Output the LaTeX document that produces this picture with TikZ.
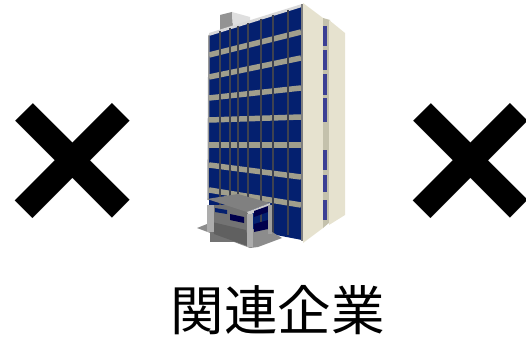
\documentclass[tikz,border=0pt]{standalone}
\usepackage{fontspec}
\newfontfamily\cjkjp{Noto Sans CJK JP}
\newfontfamily\crossfont{Liberation Sans}
\definecolor{winblue}{HTML}{04206F}
\definecolor{band}{HTML}{A09E8C}
\definecolor{mull}{HTML}{3E4250}
\definecolor{sidecream}{HTML}{E6E2CF}
\definecolor{sideshade}{HTML}{C4C1AC}
\definecolor{sideblue}{HTML}{3B3F94}
\tikzset{
  label text/.style={font=\cjkjp\fontsize{53.5}{60}\selectfont, inner sep=0pt, text=black},
  cross mark/.style={font=\crossfont\bfseries\fontsize{230}{230}\selectfont, inner sep=0pt, text=black},
  floorband/.style={draw=band, line width=5.5pt},
  mullion/.style={draw=mull, line width=1.5pt},
}
\begin{document}
\begin{tikzpicture}[x=1pt,y=-1pt]
\useasboundingbox (0,0) rectangle (526,339);
% roof box
\fill[gray!85] (220,15) -- (232,12) -- (233,27) -- (220,31) -- cycle;
\fill[gray!25] (232,12) -- (250,17) -- (250,22) -- (233,27) -- cycle;
% front face
\fill[winblue] (209,35) -- (302,6) -- (302,240) -- (209,222) -- cycle;
\fill[gray!30] (209,33) -- (302,4) -- (302,7) -- (209,36) -- cycle;
% floor bands
\foreach \l/\r in {55/32, 77/58, 98/88, 120/117, 145/145, 165/177, 190/205}
  \draw[floorband] (209,\l) -- (301,\r);
% mullions
\foreach \a/\b in {220/31, 230/28, 238/26, 248/23, 261/19, 273/15, 288/10}
  \draw[mullion] (\a,\b) -- (\a,235);
\draw[gray, line width=2pt] (302,4) -- (302,241);
\draw[gray!80, line width=1.5pt] (209,35) -- (208,200);
% side faces
\fill[sidecream] (303,3) -- (323,18) -- (323,228) -- (303,243) -- cycle;
\fill[sideshade] (323,18) -- (330,20) -- (330,222) -- (323,228) -- cycle;
\foreach \t/\b in {26/46, 50/70, 74/95, 98/122, 150/170, 175/192, 200/220}
  \fill[sideblue] (323,\t) rectangle (327,\b);
\fill[sidecream] (329,20) -- (345,33) -- (345,215) -- (329,225) -- cycle;
% entrance
\fill[gray!90] (197,228) -- (212,222) -- (246,232) -- (262,226) -- (282,238) -- (258,247) -- (250,248) -- cycle;
\fill[gray!90!black] (210,205) rectangle (250,242);
\fill[gray!75!black] (212,222) -- (246,230) -- (250,247) -- (214,234) -- cycle;
\fill[gray] (207,199) -- (238,194) -- (270,203) -- (247,212) -- cycle;
\fill[gray!40] (247,212) -- (270,203) -- (270,206) -- (249,215) -- cycle;
\fill[winblue] (215,208) -- (227,210) -- (227,214) -- (215,212) -- cycle;
\fill[black!70!blue] (230,214) -- (244,217) -- (244,223) -- (230,220) -- cycle;
\fill[black!70!blue] (254,211) -- (268,206) -- (268,212) -- (254,217) -- cycle;
\fill[black!70!blue] (254,224) -- (268,220) -- (268,229) -- (254,232) -- cycle;
\fill[gray!65] (207,205) rectangle (214,232);
\fill[gray!65] (247,214) rectangle (253,247);
\fill[gray!75] (268,205) rectangle (272,234);
% crosses
\node[cross mark] (crossl) at (73,170) {\makebox[100pt]{×}};
\node[cross mark] (crossr) at (471,170) {\makebox[100pt]{×}};
\node[label text] (cap) at (277.5,310) {関連企業};
\end{tikzpicture}
\end{document}
